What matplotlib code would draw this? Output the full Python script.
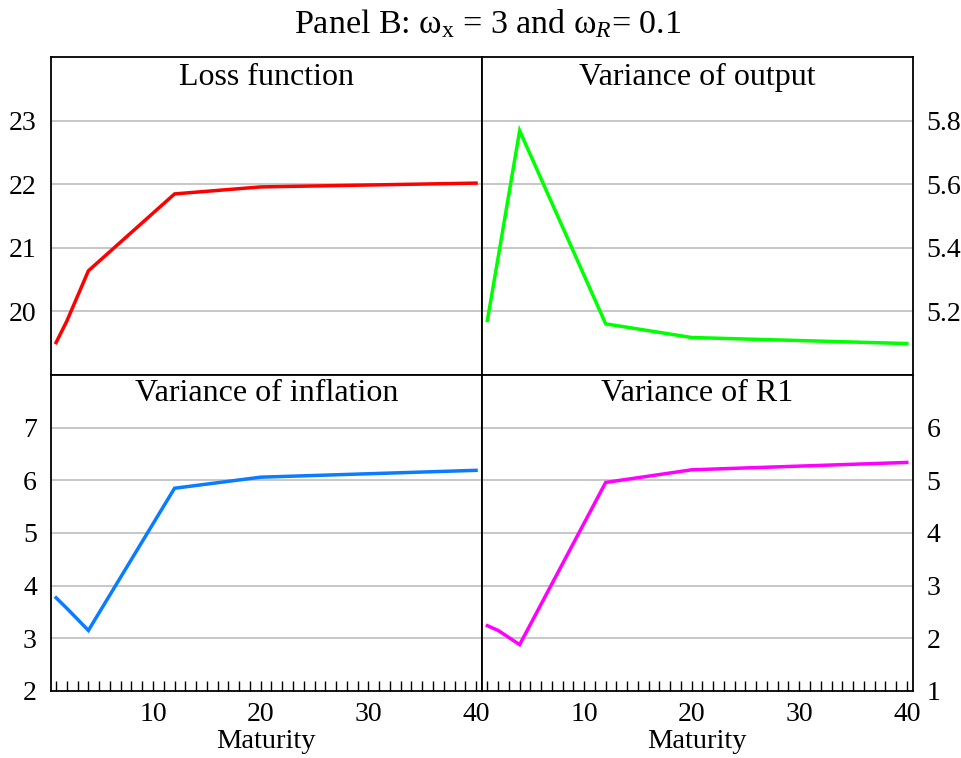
import matplotlib
matplotlib.use("Agg")
import matplotlib.pyplot as plt
from matplotlib.ticker import FixedLocator, MultipleLocator

plt.rcParams['font.family'] = ['Liberation Serif', 'DejaVu Serif']
plt.rcParams['mathtext.fontset'] = 'custom'
plt.rcParams['mathtext.rm'] = 'Liberation Serif'
plt.rcParams['mathtext.it'] = 'Liberation Serif:italic'

maturity = [1, 2, 4, 12, 20, 40]
loss = [19.51, 19.85, 20.64, 21.85, 21.96, 22.02]
var_output = [5.172, 5.37, 5.769, 5.161, 5.118, 5.099]
var_inflation = [3.77, 3.57, 3.15, 5.85, 6.06, 6.19]
var_r1 = [2.24, 2.15, 1.88, 4.96, 5.20, 5.34]

panel_titles = ["Loss function", "Variance of output", "Variance of inflation", "Variance of R1"]
series = [loss, var_output, var_inflation, var_r1]
colors = ["#ff0000", "#00ff00", "#0a7cff", "#ff00ff"]
ylims = [(19, 24), (5.0, 6.0), (2, 8), (1, 7)]
yticks = [[20, 21, 22, 23], [5.2, 5.4, 5.6, 5.8], [2, 3, 4, 5, 6, 7], [1, 2, 3, 4, 5, 6]]
ytick_labels = [["20", "21", "22", "23"], ["5.2", "5.4", "5.6", "5.8"],
                ["2", "3", "4", "5", "6", "7"], ["1", "2", "3", "4", "5", "6"]]
xticks = [10, 20, 30, 40]
xlabel = "Maturity"
title = r"Panel B: ω$_{\mathrm{x}}$ = 3 and ω$_{R}$= 0.1"

W, H = 961, 758
fig = plt.figure(figsize=(W / 100, H / 100), dpi=100)

lefts = [50.7, 482.0]
widths = [431.3, 430.7]
tops = [57.3, 375.0]
heights = [317.7, 316.0]

fs = 20
for i in range(4):
    r, c = divmod(i, 2)
    ax = fig.add_axes([lefts[c] / W, 1 - (tops[r] + heights[r]) / H,
                       widths[c] / W, heights[r] / H])
    ax.plot(maturity, series[i], color=colors[i], lw=2.5, solid_joinstyle='miter', zorder=3)
    ax.set_xlim(0.5, 40.55)
    ax.set_ylim(*ylims[i])
    grid_vals = [v for v in yticks[i] if ylims[i][0] < v < ylims[i][1]]
    for v in grid_vals:
        ax.axhline(v, color="#bdbdbd", lw=1.2, zorder=1)
    ax.yaxis.set_major_locator(FixedLocator(yticks[i]))
    ax.set_yticklabels(ytick_labels[i])
    ax.tick_params(axis='y', length=0, labelsize=fs, pad=10)
    if c == 1:
        ax.yaxis.tick_right()
        ax.tick_params(axis='y', length=0, labelsize=fs, pad=10)
    for s in ax.spines.values():
        s.set_linewidth(1.3)
        s.set_color('black')
    if r == 1:
        ax.xaxis.set_major_locator(FixedLocator(xticks))
        ax.xaxis.set_minor_locator(MultipleLocator(1))
        ax.tick_params(axis='x', which='both', direction='in', length=7, width=1.0,
                       labelsize=fs, pad=8, top=False)
        ax.set_xlabel(xlabel, fontsize=fs + 0.5, labelpad=1)
    else:
        ax.set_xticks([])
    ax.text(0.5, 0.936 if r == 0 else 0.941, panel_titles[i], transform=ax.transAxes,
            ha='center', va='center', fontsize=23)

fig.text(488 / W, 1 - 24 / H, title, ha='center', va='center', fontsize=24.5)

fig.savefig("out.png", dpi=100)
